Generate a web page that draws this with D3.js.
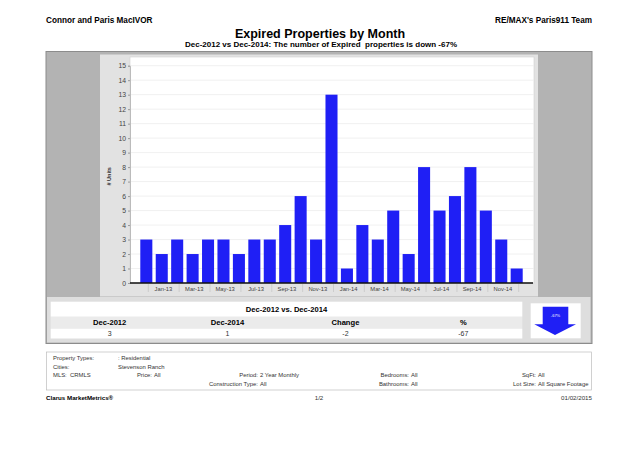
<!DOCTYPE html>
<html>
<head>
<meta charset="utf-8">
<script src="https://cdn.jsdelivr.net/npm/d3@7"></script>
<style>
  body { margin: 0; background: #fff; }
  svg text { font-family: "Liberation Sans", Arial, sans-serif; white-space: pre; }
</style>
</head>
<body>
<svg id="chart" width="638" height="451"></svg>
<script>
// months Dec-2012 .. Dec-2014
var months = ["Dec-12", "Jan-13", "Feb-13", "Mar-13", "Apr-13", "May-13", "Jun-13", "Jul-13", "Aug-13", "Sep-13", "Oct-13", "Nov-13",
    "Dec-13", "Jan-14", "Feb-14", "Mar-14", "Apr-14", "May-14", "Jun-14", "Jul-14", "Aug-14", "Sep-14", "Oct-14", "Nov-14", "Dec-14"];
var units = [3, 2, 3, 2, 3, 3, 2, 3, 3, 4, 6, 3, 13, 1, 4, 3, 5, 2, 8, 5, 6, 8, 5, 3, 1];
var xLabels = ["Jan-13", "Mar-13", "May-13", "Jul-13", "Sep-13", "Nov-13", "Jan-14", "Mar-14", "May-14", "Jul-14", "Sep-14", "Nov-14"];
var yTicks = d3.range(0, 16);

var tableHeads = ["Dec-2012", "Dec-2014", "Change", "%"];
var tableValues = ["3", "1", "-2", "-67"];

var svg = d3.select("#chart");

// header
svg.append("text").attr("x", 46).attr("y", 23)
    .attr("font-size", 8.2).attr("font-weight", "bold").text("Connor and Paris MacIVOR");
svg.append("text").attr("x", 592).attr("y", 23).attr("text-anchor", "end")
    .attr("font-size", 8.2).attr("font-weight", "bold").text("RE/MAX's Paris911 Team");
svg.append("text").attr("x", 320).attr("y", 38).attr("text-anchor", "middle")
    .attr("font-size", 12.5).attr("font-weight", "bold").text("Expired Properties by Month");
svg.append("text").attr("x", 321).attr("y", 47).attr("text-anchor", "middle")
    .attr("font-size", 8).attr("font-weight", "bold")
    .text("Dec-2012 vs Dec-2014: The number of Expired  properties is down -67%");

// outer grey box
svg.append("rect").attr("x", 46).attr("y", 51.5).attr("width", 546).attr("height", 292)
    .attr("fill", "#b3b3b3").attr("stroke", "#8c8c8c");
// lower summary band
svg.append("rect").attr("x", 47).attr("y", 297).attr("width", 543.5).attr("height", 45.5)
    .attr("fill", "#dedede");
// chart panel
svg.append("rect").attr("x", 100).attr("y", 54.5).attr("width", 438).attr("height", 242)
    .attr("fill", "#e2e2e2");
// plot area
var plotL = 130, plotR = 534, plotT = 57, plotB = 283;
svg.append("rect").attr("x", plotL).attr("y", plotT).attr("width", plotR - plotL).attr("height", plotB - plotT)
    .attr("fill", "#fff").attr("stroke", "#cfcfcf").attr("stroke-width", 0.6);

var x = d3.scaleBand().domain(months).range([138.6, 524.4]).paddingInner(0.22).paddingOuter(0.11);
var y = d3.scaleLinear().domain([0, 15]).range([plotB, 65.7]);

// gridlines
svg.append("g").selectAll("line").data(yTicks.filter(function (d) { return d > 0; }))
    .enter().append("line")
    .attr("x1", plotL).attr("x2", plotR)
    .attr("y1", function (d) { return y(d); }).attr("y2", function (d) { return y(d); })
    .attr("stroke", "#ececec").attr("stroke-width", 0.8);

// y axis
var yAxis = svg.append("g").attr("transform", "translate(" + plotL + ",0)")
    .call(d3.axisLeft(y).tickValues(yTicks).tickSize(2).tickPadding(2));
yAxis.select(".domain").attr("stroke", "#bbb");
yAxis.selectAll(".tick line").attr("stroke", "#999");
yAxis.selectAll("text").attr("font-family", "DejaVu Sans, sans-serif").attr("font-size", 6.8).attr("fill", "#444");

svg.append("text")
    .attr("transform", "translate(111," + (y(7.5) + 2) + ") rotate(-90)")
    .attr("text-anchor", "middle").attr("font-family", "DejaVu Sans, sans-serif")
    .attr("font-size", 5.5).attr("font-weight", "bold").attr("fill", "#333").text("# Units");

// bars
svg.append("g").selectAll("rect").data(units).enter().append("rect")
    .attr("x", function (d, i) { return x(months[i]); })
    .attr("y", function (d) { return y(d); })
    .attr("width", x.bandwidth())
    .attr("height", function (d) { return y(0) - y(d); })
    .attr("fill", "#1f1ff5");

// x axis baseline
svg.append("line").attr("x1", plotL).attr("x2", plotR - 1).attr("y1", plotB).attr("y2", plotB)
    .attr("stroke", "#111").attr("stroke-width", 1.6);

// x axis separators and labels
var half = x.bandwidth() / 2;
var seps = d3.range(0, 13).map(function (k) { return x(months[2 * k]) + half + 2; });
svg.append("g").selectAll("line").data(seps).enter().append("line")
    .attr("x1", function (d) { return d; }).attr("x2", function (d) { return d; })
    .attr("y1", plotB + 1).attr("y2", plotB + 9)
    .attr("stroke", "#c4c4c4").attr("stroke-width", 0.7);
svg.append("g").selectAll("text").data(xLabels).enter().append("text")
    .attr("x", function (d) { return x(d) + half + 1.7; })
    .attr("y", plotB + 7.5)
    .attr("text-anchor", "middle").attr("font-family", "DejaVu Sans, sans-serif")
    .attr("font-size", 5.8).attr("fill", "#444").text(function (d) { return d; });

// summary table
var tL = 50.7, tR = 522.3, colW = (tR - tL) / 4;
svg.append("rect").attr("x", tL).attr("y", 301.7).attr("width", tR - tL).attr("height", 15).attr("fill", "#fff");
svg.append("rect").attr("x", tL).attr("y", 317).attr("width", tR - tL).attr("height", 11).attr("fill", "#ebebeb");
svg.append("rect").attr("x", tL).attr("y", 328.5).attr("width", tR - tL).attr("height", 10).attr("fill", "#fff");
svg.append("text").attr("x", (tL + tR) / 2).attr("y", 312).attr("text-anchor", "middle")
    .attr("font-size", 7.6).attr("font-weight", "bold").text("Dec-2012 vs. Dec-2014");
svg.append("g").selectAll("text").data(tableHeads).enter().append("text")
    .attr("x", function (d, i) { return tL + colW * (i + 0.5); }).attr("y", 325.3)
    .attr("text-anchor", "middle").attr("font-size", 7.6).attr("font-weight", "bold")
    .text(function (d) { return d; });
svg.append("g").selectAll("text").data(tableValues).enter().append("text")
    .attr("x", function (d, i) { return tL + colW * (i + 0.5); }).attr("y", 336.2)
    .attr("text-anchor", "middle").attr("font-size", 7).attr("fill", "#333")
    .text(function (d) { return d; });

// arrow box
svg.append("rect").attr("x", 530.7).attr("y", 303.3).attr("width", 50).attr("height", 35).attr("fill", "#fff");
svg.append("path")
    .attr("d", "M542.7,306.7 H568.3 V324.3 H576 L555,335 L534.3,324.3 H542.7 Z")
    .attr("fill", "#1f1ff5");
svg.append("text").attr("x", 555.5).attr("y", 317).attr("text-anchor", "middle")
    .attr("font-size", 4).attr("fill", "#fff").text("-67%");

// property box
svg.append("rect").attr("x", 46.5).attr("y", 352).attr("width", 545).attr("height", 38)
    .attr("fill", "#fff").attr("stroke", "#bdbdbd").attr("stroke-width", 0.7);
var propFont = 5.9;
function ptext(px, py, s, anchor) {
    svg.append("text").attr("x", px).attr("y", py).attr("text-anchor", anchor || "start")
        .attr("font-size", propFont).attr("fill", "#333").text(s);
}
ptext(53, 360, "Property Types:");
ptext(118, 360, ": Residential");
ptext(53, 368.5, "Cities:");
ptext(118, 368.5, "Stevenson Ranch");
ptext(53, 377, "MLS:");
ptext(70, 377, "CRMLS");
ptext(152, 377, "Price:", "end");   ptext(154, 377, "All");
ptext(258, 377, "Period:", "end");  ptext(260, 377, "2 Year Monthly");
ptext(258, 385.5, "Construction Type:", "end"); ptext(260, 385.5, "All");
ptext(409, 377, "Bedrooms:", "end"); ptext(411, 377, "All");
ptext(409, 385.5, "Bathrooms:", "end"); ptext(411, 385.5, "All");
ptext(536, 377, "SqFt:", "end"); ptext(538, 377, "All");
ptext(536, 385.5, "Lot Size:", "end"); ptext(538, 385.5, "All Square Footage");

// footer
svg.append("text").attr("x", 46).attr("y", 400).attr("font-size", 6.2).attr("font-weight", "bold")
    .text("Clarus MarketMetrics\u00ae");
svg.append("text").attr("x", 319).attr("y", 400).attr("text-anchor", "middle").attr("font-size", 6.2)
    .attr("fill", "#333").text("1/2");
svg.append("text").attr("x", 592).attr("y", 400).attr("text-anchor", "end").attr("font-size", 6.2)
    .attr("fill", "#333").text("01/02/2015");
</script>
</body>
</html>
